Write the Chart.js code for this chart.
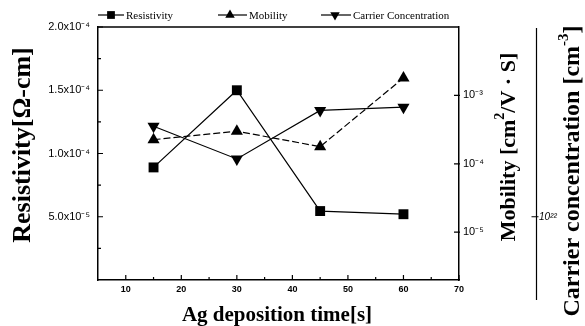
<!DOCTYPE html>
<html>
<head>
<meta charset="utf-8">
<script src="https://cdn.jsdelivr.net/npm/chart.js@4.4.0/dist/chart.umd.min.js"></script>
<style>
html, body { margin: 0; padding: 0; background: #fff; }
#wrap { width: 585px; height: 326px; position: relative; }
</style>
</head>
<body>
<div id="wrap"><canvas id="chart"></canvas></div>
<script>
// deposition time [s]
var depTimes = [15, 30, 45, 60];
// measured values
var resistivity = [8.9e-5, 1.5e-4, 5.45e-5, 5.2e-5];   // ohm-cm
var mobility = [2.25e-4, 3.0e-4, 1.78e-4, 1.8e-3];      // cm2/V.s
var carrierConc = [2.7e23, 8.2e22, 4.8e23, 5.4e23];     // cm-3

// axis ticks
var timeTicks = [10, 20, 30, 40, 50, 60, 70];
var timeMinor = [15, 25, 35, 45, 55, 65];
var resTicks = [5e-5, 1e-4, 1.5e-4, 2e-4];
var resMinor = [2.5e-5, 7.5e-5, 1.25e-4, 1.75e-4];
var mobTicks = [1e-5, 1e-4, 1e-3];
var carTicks = [1e22];

var SUP = { '-': '\u207B', '0': '\u2070', '1': '\u00B9', '2': '\u00B2', '3': '\u00B3', '4': '\u2074',
            '5': '\u2075', '6': '\u2076', '7': '\u2077', '8': '\u2078', '9': '\u2079' };
function sup(s) { return s.split('').map(function(c) { return SUP[c] || c; }).join(''); }
function expOf(v) { return Math.floor(Math.log10(v) + 1e-9); }
function sciLabel(v) {
    var e = expOf(v);
    return (v / Math.pow(10, e)).toFixed(1) + 'x10' + sup(String(e));
}
function powLabel(v) { return '10' + sup(String(Math.round(Math.log10(v)))); }

function pts(ys) { return depTimes.map(function(t, i) { return { x: t, y: ys[i] }; }); }

function marker(ctx, style, x, y, r) {
    ctx.beginPath();
    if (style === 'rect') {
        var s = r * Math.SQRT1_2;
        ctx.rect(x - s, y - s, 2 * s, 2 * s);
    } else {
        var dir = style === 'down' ? -1 : 1;
        ctx.moveTo(x, y - dir * r);
        ctx.lineTo(x + r * 0.866, y + dir * r * 0.5);
        ctx.lineTo(x - r * 0.866, y + dir * r * 0.5);
        ctx.closePath();
    }
    ctx.fill();
}

function richText(ctx, parts, cx, cy, rot, size) {
    var fMain = 'bold ' + size + 'px "Liberation Serif"';
    var fSup = 'bold ' + Math.round(size * 0.62) + 'px "Liberation Serif"';
    ctx.save();
    ctx.translate(cx, cy);
    ctx.rotate(rot);
    var total = 0;
    parts.forEach(function(p) { ctx.font = p.sup ? fSup : fMain; p.w = ctx.measureText(p.t).width; total += p.w; });
    var x = -total / 2;
    ctx.fillStyle = '#000';
    ctx.textAlign = 'left';
    ctx.textBaseline = 'middle';
    parts.forEach(function(p) {
        ctx.font = p.sup ? fSup : fMain;
        ctx.fillText(p.t, x, p.sup ? -size * 0.38 : 0);
        x += p.w;
    });
    ctx.restore();
}

var decorPlugin = {
    id: 'decor',
    afterDraw: function(chart) {
        var ctx = chart.ctx, a = chart.chartArea, sc = chart.scales;
        ctx.save();
        ctx.strokeStyle = '#000';
        ctx.fillStyle = '#000';
        ctx.lineWidth = 1.5;
        // top frame
        ctx.beginPath();
        ctx.moveTo(a.left, a.top);
        ctx.lineTo(a.right, a.top);
        ctx.stroke();

        // separate carrier concentration axis line
        var cx = sc.yCar.left + 0.5;
        ctx.lineWidth = 1.2;
        ctx.beginPath();
        ctx.moveTo(cx, a.top + 1);
        ctx.lineTo(cx, 300);
        ctx.stroke();

        // inward ticks
        ctx.beginPath();
        timeTicks.forEach(function(v) { var px = sc.x.getPixelForValue(v); ctx.moveTo(px, a.bottom); ctx.lineTo(px, a.bottom - 5); });
        timeMinor.forEach(function(v) { var px = sc.x.getPixelForValue(v); ctx.moveTo(px, a.bottom); ctx.lineTo(px, a.bottom - 3); });
        resTicks.forEach(function(v) { var py = sc.yRes.getPixelForValue(v); ctx.moveTo(a.left, py); ctx.lineTo(a.left + 5, py); });
        resMinor.forEach(function(v) { var py = sc.yRes.getPixelForValue(v); ctx.moveTo(a.left, py); ctx.lineTo(a.left + 3, py); });
        mobTicks.forEach(function(v) { var py = sc.yMob.getPixelForValue(v); ctx.moveTo(a.right + 1, py); ctx.lineTo(a.right - 5, py); });
        carTicks.forEach(function(v) { var py = sc.yCar.getPixelForValue(v); ctx.moveTo(cx + 2, py); ctx.lineTo(cx - 5, py); });
        ctx.stroke();

        // axis titles
        richText(ctx, [{ t: 'Resistivity[\u03A9-cm]' }], 23, 145, -Math.PI / 2, 26);
        richText(ctx, [{ t: 'Mobility [cm' }, { t: '2', sup: true }, { t: '/V \u00B7 S]' }], 509, 147, -Math.PI / 2, 22);
        richText(ctx, [{ t: 'Carrier concentration [cm' }, { t: '-3', sup: true }, { t: ']' }], 573, 171, -Math.PI / 2, 24);
        richText(ctx, [{ t: 'Ag deposition time[s]' }], 277, 316, 0, 21);

        // legend
        var legendPos = [[98, 124, 111, 126], [218, 247, 230, 249], [321, 351, 335, 353]];
        var legendY = 15;
        ctx.font = '11px "Liberation Serif"';
        ctx.textBaseline = 'middle';
        ctx.textAlign = 'left';
        chart.data.datasets.forEach(function(ds, i) {
            var p = legendPos[i];
            ctx.lineWidth = 1.2;
            ctx.beginPath();
            ctx.moveTo(p[0], legendY);
            ctx.lineTo(p[1], legendY);
            ctx.stroke();
            marker(ctx, ds.rotation === 180 ? 'down' : (ds.pointStyle === 'rect' ? 'rect' : 'up'), p[2], legendY, 5.5);
            ctx.fillText(ds.label, p[3], legendY + 1);
        });
        ctx.restore();
    }
};

var ctx = document.getElementById('chart').getContext('2d');
var chart = new Chart(ctx, {
    type: 'line',
    data: {
        datasets: [{
            label: 'Resistivity',
            data: pts(resistivity),
            yAxisID: 'yRes',
            borderColor: '#000',
            backgroundColor: '#000',
            borderWidth: 1.2,
            pointStyle: 'rect',
            pointRadius: 7,
            pointBorderWidth: 0
        }, {
            label: 'Mobility',
            data: pts(mobility),
            yAxisID: 'yMob',
            borderColor: '#000',
            backgroundColor: '#000',
            borderWidth: 1.2,
            borderDash: [7, 3],
            pointStyle: 'triangle',
            pointRadius: 7,
            pointBorderWidth: 0
        }, {
            label: 'Carrier Concentration',
            data: pts(carrierConc),
            yAxisID: 'yCar',
            borderColor: '#000',
            backgroundColor: '#000',
            borderWidth: 1.2,
            pointStyle: 'triangle',
            rotation: 180,
            pointRadius: 7,
            pointBorderWidth: 0
        }]
    },
    options: {
        responsive: true,
        maintainAspectRatio: false,
        animation: false,
        layout: { padding: { top: 27, left: 0, right: 0, bottom: 0 } },
        plugins: { legend: { display: false }, tooltip: { enabled: false } },
        scales: {
            x: {
                type: 'linear',
                position: 'bottom',
                min: 5,
                max: 70,
                afterBuildTicks: function(s) { s.ticks = timeTicks.map(function(v) { return { value: v }; }); },
                afterFit: function(s) { s.height = 46; },
                grid: { display: false, drawTicks: false },
                border: { display: true, color: '#000', width: 1.5 },
                ticks: { color: '#000', padding: 4, maxRotation: 0, autoSkip: false,
                         font: { family: 'Liberation Sans', size: 9, weight: 'bold' } }
            },
            yRes: {
                type: 'linear',
                position: 'left',
                min: 0,
                max: 2e-4,
                afterBuildTicks: function(s) { s.ticks = resTicks.map(function(v) { return { value: v }; }); },
                afterFit: function(s) { s.width = 98; },
                grid: { display: false, drawTicks: false },
                border: { display: true, color: '#000', width: 1.5 },
                ticks: { color: '#000', padding: 8, callback: function(v) { return sciLabel(v); },
                         font: { family: 'Liberation Sans', size: 11 } }
            },
            yMob: {
                type: 'logarithmic',
                position: 'right',
                weight: 0,
                min: 2e-6,
                max: 1e-2,
                afterBuildTicks: function(s) { s.ticks = mobTicks.map(function(v) { return { value: v }; }); },
                afterFit: function(s) { s.width = 77; },
                grid: { display: false, drawTicks: false },
                border: { display: true, color: '#000', width: 1.5 },
                ticks: { color: '#000', padding: 4, callback: function(v) { return powLabel(v); },
                         font: { family: 'Liberation Sans', size: 11 } }
            },
            yCar: {
                type: 'logarithmic',
                position: 'right',
                weight: 1,
                min: 1e21,
                max: 1e25,
                afterBuildTicks: function(s) { s.ticks = carTicks.map(function(v) { return { value: v }; }); },
                afterFit: function(s) { s.width = 49; },
                grid: { display: false, drawTicks: false },
                border: { display: false },
                ticks: { color: '#000', padding: 3, callback: function(v) { return powLabel(v); },
                         font: { family: 'Liberation Sans', size: 10, style: 'italic' } }
            }
        }
    },
    plugins: [decorPlugin]
});
</script>
</body>
</html>
